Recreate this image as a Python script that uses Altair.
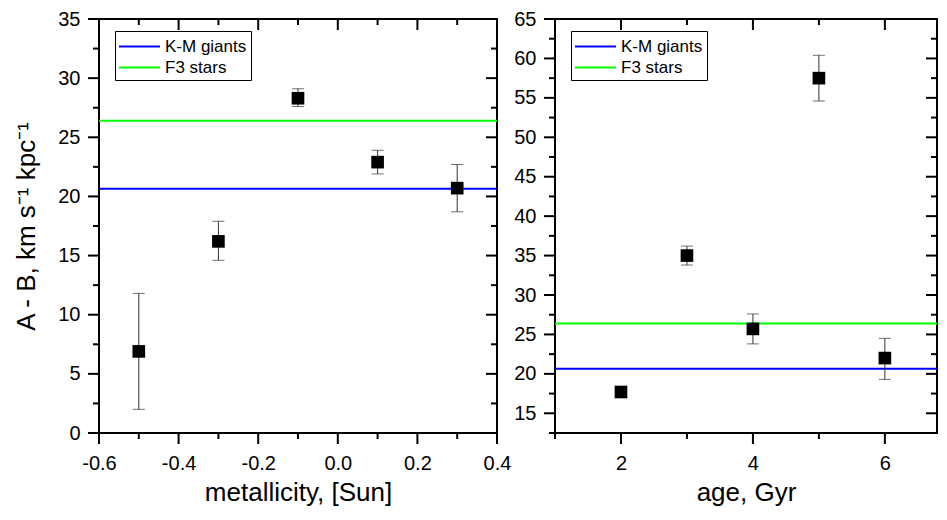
import altair as alt
import pandas as pd

# ---- data ----
metallicity = [-0.5, -0.3, -0.1, 0.1, 0.3]
ab_metal = [6.9, 16.2, 28.3, 22.9, 20.7]
ab_metal_lo = [2.0, 14.6, 27.6, 21.9, 18.7]
ab_metal_hi = [11.8, 17.9, 29.1, 23.9, 22.7]

age = [2, 3, 4, 5, 6]
ab_age = [17.7, 35.0, 25.7, 57.5, 22.0]
ab_age_lo = [17.4, 33.8, 23.8, 54.6, 19.3]
ab_age_hi = [18.0, 36.2, 27.6, 60.4, 24.5]

ref_names = ["K-M giants", "F3 stars"]
ref_values = [20.65, 26.4]
ref_colors = ["#0000ff", "#00ff00"]

# tick positions (major carry labels, minor are short unlabeled ticks)
met_major = [-0.6, -0.4, -0.2, 0.0, 0.2, 0.4]
met_minor = [-0.5, -0.3, -0.1, 0.1, 0.3]
age_major = [2, 4, 6]
age_minor = [1, 3, 5]
yl_major = [0, 5, 10, 15, 20, 25, 30, 35]
yl_minor = [2.5, 7.5, 12.5, 17.5, 22.5, 27.5, 32.5]
yr_major = [15, 20, 25, 30, 35, 40, 45, 50, 55, 60, 65]
yr_minor = [12.5, 17.5, 22.5, 27.5, 32.5, 37.5, 42.5, 47.5, 52.5, 57.5, 62.5]

FONT = "Liberation Sans"
Y_TITLE = "A - B, km s\u207b\u00b9 kpc\u207b\u00b9"
MAJ, MIN = 11, 6


def tick_table(xmaj, xmin, ymaj, ymin, xdomain, ydomain, w, h):
    """Tick segments expressed in data units so every end goes through the scales."""
    x0, x1 = xdomain
    y0, y1 = ydomain
    kx = (x1 - x0) / w   # data units per pixel
    ky = (y1 - y0) / h
    rows = []
    for vals, ln in ((xmaj, MAJ), (xmin, MIN)):
        for v in vals:
            rows.append((v, v, y0, y0 - ln * ky))      # bottom, outward
            rows.append((v, v, y1, y1 - ln * ky))      # top, inward
    for vals, ln in ((ymaj, MAJ), (ymin, MIN)):
        for v in vals:
            rows.append((x0, x0 - ln * kx, v, v))      # left, outward
            rows.append((x1, x1 - ln * kx, v, v))      # right, inward
    return pd.DataFrame(rows, columns=["tx", "tx2", "ty", "ty2"])


def panel(xs, ys, lo, hi, xdomain, ydomain, xmaj, xmin, ymaj, ymin,
          xtitle, w, h, xlabel_expr=None, ytitle=None):
    df = pd.DataFrame({"x": xs, "y": ys, "lo": lo, "hi": hi})
    ref_df = pd.DataFrame({"name": ref_names, "value": ref_values})
    tick_df = tick_table(xmaj, xmin, ymaj, ymin, xdomain, ydomain, w, h)
    xsc = alt.Scale(domain=xdomain, nice=False, zero=False, clamp=False)
    ysc = alt.Scale(domain=ydomain, nice=False, zero=False, clamp=False)

    bkw = dict(orient="bottom", values=xmaj, ticks=False, title=xtitle,
               labelPadding=MAJ + 9, titlePadding=6, labelFlush=False,
               labelOverlap=False)
    if xlabel_expr:
        bkw["labelExpr"] = xlabel_expr
    bottom = alt.Axis(**bkw)
    lkw = dict(orient="left", values=ymaj, ticks=False, labelPadding=MAJ + 8,
               labelOverlap=False)
    if ytitle:
        left = alt.Axis(title=ytitle, titlePadding=18, **lkw)
    else:
        left = alt.Axis(title=None, **lkw)

    def X(f):
        return alt.X(f, scale=xsc, axis=bottom)

    def Y(f):
        return alt.Y(f, scale=ysc, axis=left)

    base = alt.Chart(df)
    legend = alt.Legend(title=None, orient="none", legendX=16, legendY=12,
                        symbolType="M-2,0H2", symbolSize=420,
                        symbolStrokeWidth=2, symbolOffset=9, labelOffset=14,
                        labelFontSize=17, labelFont=FONT, labelColor="black",
                        padding=4, rowPadding=1, strokeColor="black",
                        fillColor="white")
    hlines = alt.Chart(ref_df).mark_rule(strokeWidth=2).encode(
        y=Y("value:Q"),
        color=alt.Color("name:N", scale=alt.Scale(domain=ref_names, range=ref_colors),
                        legend=legend),
    )
    err = base.mark_rule(color="#333333", strokeWidth=1).encode(
        x=X("x:Q"), y=Y("lo:Q"), y2="hi:Q")
    cap_lo = base.mark_tick(color="#333333", thickness=1, size=12,
                            orient="horizontal").encode(x=X("x:Q"), y=Y("lo:Q"))
    cap_hi = base.mark_tick(color="#333333", thickness=1, size=12,
                            orient="horizontal").encode(x=X("x:Q"), y=Y("hi:Q"))
    pts = base.mark_point(shape="square", filled=True, size=160, color="black",
                          opacity=1).encode(x=X("x:Q"), y=Y("y:Q"))
    frame_ticks = alt.Chart(tick_df).mark_rule(color="black", strokeWidth=2).encode(
        x=X("tx:Q"), x2="tx2:Q", y=Y("ty:Q"), y2="ty2:Q")
    return alt.layer(hlines, err, cap_lo, cap_hi, pts, frame_ticks).properties(
        width=w, height=h)


met_label = "replace(format(datum.value, '.1f'), '\u2212', '-')"

left_panel = panel(metallicity, ab_metal, ab_metal_lo, ab_metal_hi, [-0.6, 0.4], [0, 35],
                   met_major, met_minor, yl_major, yl_minor,
                   "metallicity, [Sun]", 398, 414, xlabel_expr=met_label,
                   ytitle=Y_TITLE)
right_panel = panel(age, ab_age, ab_age_lo, ab_age_hi, [1, 6.79], [12.5, 65],
                    age_major, age_minor, yr_major, yr_minor,
                    "age, Gyr", 382, 414)

chart = alt.hconcat(left_panel, right_panel, spacing=0).resolve_scale(
    color="independent"
).resolve_legend(color="independent").properties(
    padding={"left": 4, "top": 0, "right": 0, "bottom": 0}
).configure(font=FONT).configure_view(
    stroke="black", strokeWidth=2
).configure_axis(
    labelFont=FONT, titleFont=FONT, labelFontSize=20, titleFontSize=26,
    titleFontWeight="normal", labelColor="black", titleColor="black",
    grid=False, domain=False,
)

chart.save("out.html", embed_options={"renderer": "svg", "actions": False})
